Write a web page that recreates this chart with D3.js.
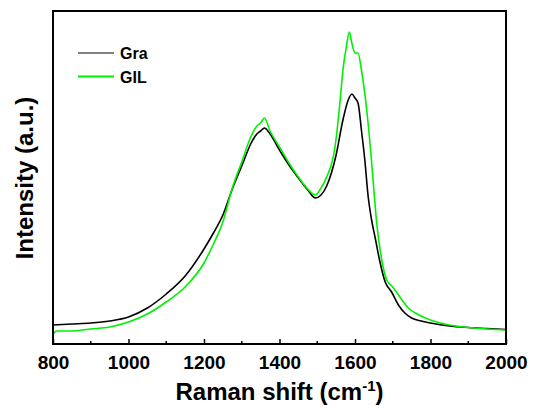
<!DOCTYPE html>
<html>
<head>
<meta charset="utf-8">
<script src="https://cdn.jsdelivr.net/npm/d3@7"></script>
<style>
  body { margin: 0; background: #fff; }
  svg { display: block; font-family: "Liberation Sans", Arial, sans-serif; }
</style>
</head>
<body>
<svg id="chart" width="533" height="410"></svg>
<script>
// Raman shift values (cm-1) and intensities (a.u.)
const graShift = [800, 850, 900, 950, 1000, 1050, 1100, 1150, 1200, 1225, 1250, 1275, 1300, 1325, 1340, 1350, 1360, 1375, 1400, 1425, 1450, 1475, 1495, 1510, 1525, 1550, 1568, 1582, 1592, 1600, 1608, 1617, 1626, 1635, 1644, 1653, 1665, 1680, 1697, 1715, 1732, 1750, 1775, 1800, 1850, 1900, 1950, 2000];
const graIntensity = [19, 20, 21, 23, 27, 36, 50, 68, 95, 111, 129, 155, 178, 201, 210, 213, 216, 210, 194, 179, 166, 154, 146, 149, 158, 189, 224, 244, 250, 246, 241, 214, 184, 147, 124, 107, 84, 62, 52, 39, 31, 26, 23, 21, 18, 16.5, 15.5, 14.5];

const gilShift = [800, 810, 850, 900, 950, 1000, 1050, 1100, 1150, 1200, 1225, 1250, 1275, 1300, 1325, 1340, 1350, 1360, 1375, 1400, 1425, 1450, 1475, 1495, 1510, 1525, 1547, 1560, 1568, 1577, 1585, 1591, 1600, 1608, 1617, 1629, 1642, 1650, 1658, 1670, 1684, 1700, 1719, 1741, 1770, 1800, 1850, 1900, 1950, 2000];
const gilIntensity = [10, 13, 13, 15, 17, 22, 30, 42, 57, 81, 100, 122, 156, 182, 208, 218, 221, 226, 213, 197, 181, 167, 155, 149, 156, 167, 197, 241, 274, 297, 312, 302, 291, 291, 274, 241, 191, 154, 119, 86, 64, 57, 47, 36, 29, 24, 19, 16.5, 15, 14];

const xTicks = [800, 1000, 1200, 1400, 1600, 1800, 2000];
const xMinor = [900, 1100, 1300, 1500, 1700, 1900];

const seriesNames = ["Gra", "GIL"];
const seriesColors = ["#000000", "#00f000"];

const margin = {left: 53, top: 11, right: 27, bottom: 66};
const width = 533, height = 410;

const svg = d3.select("#chart");

const x = d3.scaleLinear().domain([800, 2000]).range([margin.left, width - margin.right]);
const y = d3.scaleLinear().domain([0, 333]).range([height - margin.bottom, margin.top]);

const series = [
  {name: seriesNames[0], color: seriesColors[0], pts: graShift.map((s, i) => [s, graIntensity[i]])},
  {name: seriesNames[1], color: seriesColors[1], pts: gilShift.map((s, i) => [s, gilIntensity[i]])}
];

const line = d3.line()
  .x(d => x(d[0]))
  .y(d => y(d[1]))
  .curve(d3.curveMonotoneX);

// curves
svg.append("g")
  .selectAll("path")
  .data(series)
  .join("path")
  .attr("d", d => line(d.pts))
  .attr("fill", "none")
  .attr("stroke", d => d.color)
  .attr("stroke-width", 1.6);

// bottom axis, ticks pointing inward
const xAxis = d3.axisBottom(x).tickValues(xTicks).tickSize(-5).tickPadding(12).tickFormat(d3.format("d"));
const gx = svg.append("g")
  .attr("transform", `translate(0,${height - margin.bottom})`)
  .call(xAxis);
gx.select(".domain").remove();
gx.selectAll("line").attr("stroke", "#000").attr("stroke-width", 1.5);
gx.selectAll("text")
  .attr("font-size", 19)
  .attr("font-weight", "bold")
  .attr("fill", "#000");

gx.selectAll(".minor")
  .data(xMinor)
  .join("line")
  .attr("class", "minor")
  .attr("x1", d => x(d)).attr("x2", d => x(d))
  .attr("y1", 0).attr("y2", -3)
  .attr("stroke", "#000").attr("stroke-width", 1.5);

// frame
svg.append("rect")
  .attr("x", margin.left)
  .attr("y", margin.top)
  .attr("width", width - margin.left - margin.right)
  .attr("height", height - margin.top - margin.bottom)
  .attr("fill", "none")
  .attr("stroke", "#000")
  .attr("stroke-width", 2);

// axis titles
const xt = svg.append("text")
  .attr("x", (margin.left + width - margin.right) / 2)
  .attr("y", 400)
  .attr("text-anchor", "middle")
  .attr("font-size", 24)
  .attr("font-weight", "bold");
xt.append("tspan").text("Raman shift (cm");
xt.append("tspan").attr("dy", -9).attr("font-size", 15).text("-1");
xt.append("tspan").attr("dy", 9).text(")");

svg.append("text")
  .attr("transform", "translate(33,178) rotate(-90)")
  .attr("text-anchor", "middle")
  .attr("font-size", 24)
  .attr("font-weight", "bold")
  .text("Intensity (a.u.)");

// legend
const legend = svg.append("g")
  .selectAll("g")
  .data(series)
  .join("g")
  .attr("transform", (d, i) => `translate(78,${53 + i * 23.5})`);
legend.append("line")
  .attr("x1", 0).attr("x2", 36)
  .attr("stroke", d => d.color)
  .attr("stroke-width", (d, i) => i === 0 ? 1.2 : 2);
legend.append("text")
  .attr("x", 42)
  .attr("y", 6)
  .attr("font-size", 16)
  .attr("font-weight", "bold")
  .text(d => d.name);
</script>
</body>
</html>
